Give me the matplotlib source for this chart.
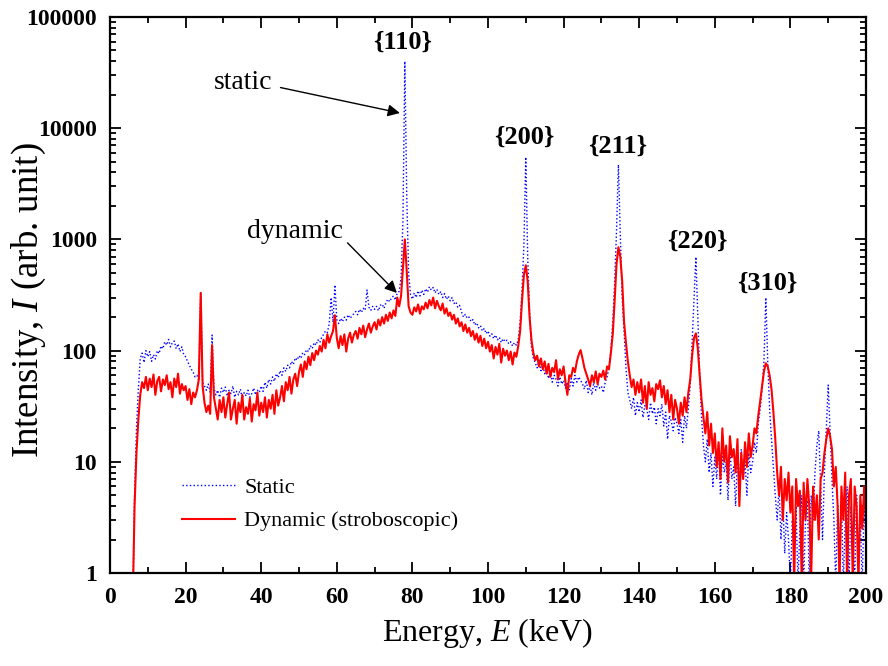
import matplotlib
matplotlib.use('Agg')
import matplotlib.pyplot as plt
from matplotlib import ticker
import numpy as np

# channel energies, 0.5 keV steps from 0 to 200 keV
energy = np.arange(401) * 0.5

# static spectrum (counts per channel), 10 channels = 5 keV per row
static = [
    0.5, 0.5, 0.5, 0.5, 0.5, 0.5, 0.5, 0.5, 0.5, 0.5,          # 0
    0.5, 0.5, 0.5, 5, 20, 45, 85, 95, 78, 100,                  # 5
    88, 98, 80, 92, 84, 100, 94, 110, 104, 120,                 # 10
    112, 126, 108, 118, 122, 104, 115, 98, 108, 92,             # 15
    88, 80, 74, 68, 64, 58, 60, 54, 335, 52,                    # 20
    48, 44, 50, 42, 138, 46, 40, 44, 38, 46,                    # 25
    42, 47, 39, 44, 41, 48, 38, 43, 40, 45,                     # 30
    37, 42, 39, 44, 38, 41, 46, 40, 44, 42,                     # 35
    48, 43, 52, 46, 55, 50, 58, 53, 62, 57,                     # 40
    66, 60, 70, 65, 74, 70, 80, 75, 86, 82,                     # 45
    90, 85, 96, 92, 102, 98, 110, 104, 118, 112,                # 50
    125, 118, 132, 140, 150, 145, 175, 300, 180, 390,           # 55
    190, 175, 195, 182, 200, 188, 210, 195, 205, 215,           # 60
    225, 210, 235, 220, 240, 230, 350, 245, 230, 250,           # 65
    235, 250, 228, 255, 262, 240, 270, 290, 275, 300,           # 70
    310, 285, 330, 340, 450, 1500, 40000, 2500, 500, 320,       # 75
    290, 330, 300, 345, 310, 350, 320, 360, 335, 375,           # 80
    350, 370, 330, 355, 320, 340, 300, 325, 290, 310,           # 85
    280, 300, 265, 275, 245, 255, 222, 200, 212, 195,           # 90
    200, 182, 190, 170, 178, 160, 168, 150, 158, 142,           # 95
    150, 135, 142, 128, 138, 125, 132, 118, 128, 120,           # 100
    124, 115, 120, 110, 118, 112, 125, 180, 350, 900,           # 105
    5500, 700, 220, 108, 85, 78, 70, 82, 66, 74,                # 110
    62, 70, 56, 66, 52, 60, 55, 48, 58, 50,                     # 115
    54, 46, 52, 44, 56, 48, 60, 52, 58, 54,                     # 120
    50, 45, 54, 42, 48, 40, 52, 44, 50, 46,                     # 125
    48, 42, 52, 58, 70, 100, 180, 400, 1200, 4700,              # 130
    1100, 300, 150, 70, 42, 36, 30, 38, 26, 34,                 # 135
    28, 36, 25, 32, 30, 24, 34, 27, 31, 22,                     # 140
    30, 26, 33, 21, 28, 16, 26, 23, 19, 25,                     # 145
    22, 18, 24, 15, 26, 20, 30, 50, 120, 300,                   # 150
    695, 200, 60, 25, 14, 10, 16, 8, 12, 6,                     # 155
    11, 7, 14, 5, 12, 8, 10, 4.5, 13, 7,                        # 160
    9, 4, 11, 6, 13, 7, 10, 5, 12, 8,                           # 165
    10, 15, 12, 22, 30, 45, 80, 300, 80, 30,                    # 170
    16, 9, 5, 3, 6, 2, 4.5, 1.5, 3.5, 2,                        # 175
    0.8, 3, 1.5, 4, 0.8, 2.5, 5, 0.8, 3, 4.5,                   # 180
    0.8, 5, 3, 8, 14, 19, 6, 2, 8, 20,                          # 185
    49, 18, 7, 3, 0.8, 4, 1.5, 5, 0.8, 3,                       # 190
    6, 0.8, 4, 2, 0.8, 5, 1.5, 3, 0.8, 4,                       # 195
    2,
]

# dynamic (stroboscopic) spectrum on the same channels
dynamic = [
    0.5, 0.5, 0.5, 0.5, 0.5, 0.5, 0.5, 0.5, 0.5, 0.5,          # 0
    0.5, 0.5, 0.5, 4, 12, 24, 40, 52, 46, 58,                   # 5
    44, 56, 47, 61, 40, 53, 58, 43, 55, 49,                     # 10
    60, 45, 52, 38, 56, 47, 62, 41, 50, 44,                     # 15
    48, 36, 45, 33, 42, 38, 44, 55, 330, 48,                    # 20
    34, 28, 32, 27, 112, 38, 30, 24, 36, 28,                    # 25
    38, 25, 33, 42, 24, 30, 36, 22, 34, 28,                     # 30
    40, 24, 31, 27, 37, 23, 33, 29, 42, 26,                     # 35
    34, 28, 38, 25, 36, 30, 40, 27, 44, 32,                     # 40
    38, 48, 35, 52, 44, 58, 41, 55, 62, 48,                     # 45
    64, 75, 58, 80, 68, 88, 74, 95, 82, 100,                    # 50
    92, 110, 98, 125, 105, 140, 118, 135, 150, 208,             # 55
    130, 105, 135, 112, 140, 98, 128, 145, 118, 138,            # 60
    150, 128, 160, 140, 168, 132, 155, 175, 145, 165,           # 65
    180, 155, 190, 168, 200, 175, 210, 185, 220, 195,           # 70
    230, 205, 300, 250, 310, 560, 1000, 520, 250, 220,          # 75
    210, 245, 225, 260, 215, 250, 235, 270, 240, 285,           # 80
    255, 300, 240, 280, 250, 230, 265, 215, 240, 205,           # 85
    220, 190, 210, 175, 195, 165, 180, 150, 172, 145,           # 90
    160, 135, 150, 125, 142, 118, 136, 110, 128, 105,           # 95
    120, 98, 112, 85, 108, 92, 115, 78, 104, 90,                # 100
    100, 82, 98, 75, 96, 88, 110, 150, 280, 480,                # 105
    585, 420, 200, 124, 95, 82, 90, 72, 85, 68,                 # 110
    80, 62, 76, 58, 70, 64, 82, 55, 68, 60,                     # 115
    72, 52, 40, 60, 58, 70, 64, 80, 92, 101,                    # 120
    85, 70, 62, 55, 48, 60, 52, 65, 50, 62,                     # 125
    58, 66, 55, 72, 68, 95, 140, 280, 600, 850,                 # 130
    700, 420, 180, 117, 80, 60, 47, 55, 40, 52,                 # 135
    42, 55, 34, 48, 30, 52, 40, 46, 35, 50,                     # 140
    45, 54, 38, 48, 33, 44, 28, 40, 24, 36,                     # 145
    30, 22, 34, 26, 38, 28, 42, 55, 90, 130,                    # 150
    143, 105, 60, 36, 25, 18, 28, 14, 22, 12,                   # 155
    18, 9, 15, 7, 20, 10, 14, 6.5, 17, 11,                      # 160
    13, 8, 16, 4, 12, 7, 15, 9, 18, 11,                         # 165
    14, 20, 18, 26, 35, 48, 65, 77, 72, 60,                     # 170
    45, 28, 16, 8, 5, 9, 3, 7, 4.5, 8,                          # 175
    3.5, 6, 0.8, 7, 4, 5.5, 0.8, 6.5, 3, 7,                     # 180
    4, 0.9, 6, 3, 5, 2, 7, 8, 12, 16,                           # 185
    20, 17, 13, 6, 9, 4, 0.8, 6, 3, 8,                          # 190
    0.8, 5, 7, 0.8, 6, 4, 0.8, 5, 2.5, 6,                       # 195
    3,
]

# reflection labels: (text, energy, intensity at label centre)
peak_labels = [
    ('{110}', 77.5, 59000),
    ('{200}', 109.5, 8300),
    ('{211}', 134.2, 6900),
    ('{220}', 155.3, 970),
    ('{310}', 173.8, 400),
]

plt.rcParams['font.family'] = 'Liberation Serif'
plt.rcParams['mathtext.fontset'] = 'custom'
plt.rcParams['mathtext.rm'] = 'Liberation Serif'
plt.rcParams['mathtext.it'] = 'Liberation Serif:italic'

fig = plt.figure(figsize=(8.88, 6.66), dpi=100)
ax = fig.add_axes([110 / 888, 93 / 666, 756 / 888, 556 / 666])

ax.plot(energy, static, color='blue', linestyle=':', linewidth=1.0, label='Static')
ax.plot(energy, dynamic, color='red', linestyle='-', linewidth=1.5, label='Dynamic (stroboscopic)')

ax.set_yscale('log')
ax.set_xlim(0, 200)
ax.set_ylim(1, 100000)

ax.xaxis.set_major_locator(ticker.MultipleLocator(20))
ax.xaxis.set_minor_locator(ticker.MultipleLocator(10))
ax.yaxis.set_major_locator(ticker.LogLocator(base=10))
ax.yaxis.set_minor_locator(ticker.LogLocator(base=10, subs=np.arange(2, 10)))
ax.yaxis.set_major_formatter(ticker.FuncFormatter(lambda v, p: '%d' % round(v)))
ax.yaxis.set_minor_formatter(ticker.NullFormatter())

ax.tick_params(which='both', direction='in', top=True, right=True, width=1.3)
ax.tick_params(which='major', length=8, labelsize=17)
ax.tick_params(axis='x', which='major', pad=10)
ax.tick_params(axis='y', which='major', pad=9.5)
ax.tick_params(which='minor', length=4)
for lab in ax.get_xticklabels() + ax.get_yticklabels():
    lab.set_fontweight('bold')
for sp in ax.spines.values():
    sp.set_linewidth(1.6)

ax.set_xlabel('Energy, $E$ (keV)', fontsize=23, labelpad=6)
ax.set_ylabel('Intensity, $I$ (arb. unit)', fontsize=26.5)
ax.yaxis.set_label_coords(-0.082, 0.49)

for txt, e, v in peak_labels:
    ax.text(e, v, txt, fontsize=19, fontweight='bold', ha='center', va='center')

ax.annotate('static', xy=(76.7, 13700), xytext=(35.2, 26000), fontsize=20,
            ha='center', va='center',
            arrowprops=dict(arrowstyle='-|>', color='black', lw=1.0,
                            mutation_scale=18, relpos=(1.0, 0.35), shrinkA=4, shrinkB=0))
ax.annotate('dynamic', xy=(75.9, 330), xytext=(48.9, 1170), fontsize=20,
            ha='center', va='center',
            arrowprops=dict(arrowstyle='-|>', color='black', lw=1.0,
                            mutation_scale=18, relpos=(1.0, 0.25), shrinkA=2, shrinkB=0))

ax.legend(loc='lower left', bbox_to_anchor=(0.095, 0.075), frameon=False, fontsize=16,
          handlelength=2.4, handletextpad=0.4, borderpad=0, borderaxespad=0,
          labelspacing=0.58)

fig.savefig('out.png', dpi=100)
